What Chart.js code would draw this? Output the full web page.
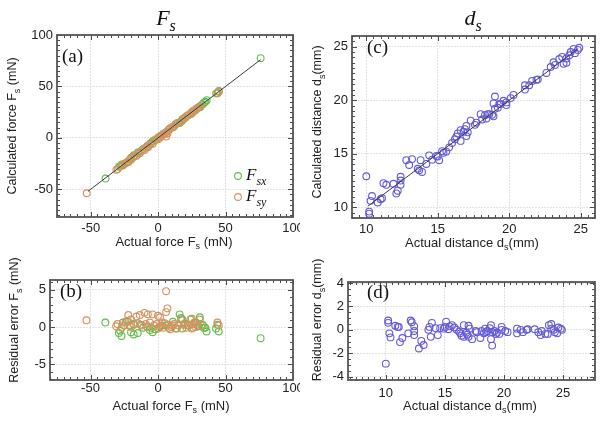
<!DOCTYPE html>
<html lang="en">
<head>
<meta charset="UTF-8">
<title>Force and distance calibration</title>
<script src="https://cdn.jsdelivr.net/npm/chart.js"></script>
<style>
  body { margin: 0; background: #fff; }
  #wrap { position: relative; width: 604px; height: 425px; }
  canvas { position: absolute; }
</style>
</head>
<body>
<div id="wrap">
  <canvas id="chartA" width="300" height="255" style="left:0px;top:0px"></canvas>
  <canvas id="chartB" width="300" height="170" style="left:0px;top:255px"></canvas>
  <canvas id="chartC" width="304" height="255" style="left:300px;top:0px"></canvas>
  <canvas id="chartD" width="304" height="170" style="left:300px;top:255px"></canvas>
</div>
<script>
// ---- data ----
// Fsx (green): actual force, calculated force, residual (mN)
const fsxActual = [-39,-29,-27,-28,-26,-23,-20,-18,-15,-21,-18,-13,-11,-8,-5,-2,-4,-6,1,3,6,8,11,13,16,17,18,18,20,22,25,26,28,30,31,33,34,35,36,43,45,44,76];
const fsxCalc = [-39.6,-28.2,-25.8,-27.5,-26.6,-23.8,-19.3,-17,-14.2,-21.2,-18.4,-13.3,-10.9,-8.1,-4.9,-1.7,-3.3,-5.6,1,2.8,5.8,8.1,10.3,13.2,14.3,15.8,17,18.2,19.6,21.8,23.9,26.1,27.4,29.9,29.7,32.7,34.1,35.1,36.6,43.2,45.6,43.7,77.5];
const fsxResid = [0.6,-0.8,-1.2,-0.5,0.6,0.8,-0.7,-1.0,-0.8,0.2,0.4,0.3,-0.1,0.1,-0.1,-0.3,-0.7,-0.4,0,0.2,0.2,-0.1,0.7,-0.2,1.7,1.2,1.0,-0.2,0.4,0.2,1.1,-0.1,0.6,0.1,1.3,0.3,-0.1,-0.1,-0.6,-0.2,-0.6,0.3,-1.5];

// Fsy (orange)
const fsyActual = [-53,-31,-30,-27,-24,-22,-20,-16,-13.5,-22,-10,-7.5,-4,0,1.5,6,7,6,-18,-15,-12,-9,-6,-3,-1,2,4,5,8,10,12,14,15,17,19,21,23,24,26,28,29,31,32,44,45,-25,-20,-8,0,3,9,11,20,25,27];
const fsyCalc = [-53.9,-31.1,-30.4,-26.9,-24.7,-22.7,-21,-17.4,-15.1,-23.6,-11.9,-9.2,-5.7,-1.5,0.2,4,4.5,1.2,-18.3,-15.5,-12.2,-9.4,-6.6,-3.2,-1.4,1.9,4.1,4.5,7.7,10,11.6,14.2,14.8,16,18.7,21.1,22.8,23,25.6,28,28.7,30,31.8,43.4,44.8,-25.2,-20,-8,0.2,2.4,9.3,10.8,19.5,25.2,26.4];
const fsyResid = [0.9,0.1,0.4,-0.1,0.7,0.7,1.0,1.4,1.6,1.6,1.9,1.7,1.7,1.5,1.3,2.0,2.5,4.8,0.3,0.5,0.2,0.4,0.6,0.2,0.4,0.1,-0.1,0.5,0.3,0.0,0.4,-0.2,0.2,1.0,0.3,-0.1,0.2,1.0,0.4,0.0,0.3,1.0,0.2,0.6,0.2,0.2,0.0,0.0,-0.2,0.6,-0.3,0.2,0.5,-0.2,0.6];

// distance ds (mm)
const dActual = [10.0,10.2,10.2,10.3,10.4,10.8,11.0,11.1,11.2,11.4,11.9,12.1,12.2,12.4,12.4,12.4,12.8,13.0,13.2,13.6,13.7,13.9,13.8,14.4,14.2,14.6,15.1,15.0,15.3,15.4,15.6,16.0,16.2,16.4,16.6,16.6,16.8,17.0,17.0,17.1,17.3,17.6,17.7,18.0,18.1,18.4,18.6,18.8,18.9,18.9,19.0,19.0,19.3,19.4,19.6,19.8,19.8,20.1,20.3,21.1,21.1,21.4,21.6,21.9,22.0,22.6,22.9,23.1,23.2,23.5,23.7,23.8,24.0,24.0,24.2,24.3,24.6,24.8,15.8,16.3,18.3,18.5,19.2,16.9,14.9,24.5,24.9];
const dCalc = [12.9,9.4,9.6,10.6,11.05,10.45,10.75,10.85,12.25,12.1,12.2,11.3,11.55,12.1,12.5,12.85,14.4,13.95,14.5,13.6,13.45,13.3,14.4,14.85,14.05,14.45,14.4,14.75,15.25,15.1,15.2,16.0,16.35,16.9,17.2,16.2,17.05,16.65,17.6,17.0,18.1,17.7,17.9,18.7,18.2,18.3,18.7,18.65,18.5,19.7,20.35,19.2,19.65,19.65,19.95,19.55,19.8,20.2,20.5,21.0,21.4,21.4,21.8,21.9,21.95,22.55,23.1,23.55,23.3,23.85,24.05,23.4,23.5,23.9,24.2,24.5,24.4,24.7,15.6,16.6,18.6,18.7,19.3,17.3,14.8,24.8,24.9];
const dResid = [-2.9,0.8,0.6,-0.3,-0.65,0.35,0.25,0.25,-1.05,-0.7,-0.3,0.8,0.65,0.3,-0.1,-0.45,-1.6,-0.95,-1.3,0.0,0.25,0.6,-0.6,-0.45,0.15,0.15,0.7,0.25,0.05,0.3,0.4,0.0,-0.15,-0.5,-0.6,0.4,-0.25,0.35,-0.6,0.1,-0.8,-0.1,-0.2,-0.7,-0.1,0.1,-0.1,0.15,0.4,-0.8,-1.35,-0.2,-0.35,-0.25,-0.35,0.25,0.0,-0.1,-0.2,0.1,-0.3,0.0,-0.2,0.0,0.05,0.05,-0.2,-0.45,-0.1,-0.35,-0.35,0.4,0.5,0.1,0.0,-0.2,0.2,0.1,0.2,-0.3,-0.3,-0.2,-0.1,-0.4,0.1,-0.3,0.0];

// fitted y = x lines (end points)
const forceFit = [-52, 76];
const distFit = [10.1, 24.8];

// tick labels
const forceTicks = [-50, 0, 50, 100];
const residForceTicks = [-5, 0, 5];
const distTicks = [10, 15, 20, 25];
const residDistTicks = [-4, -2, 0, 2, 4];

const GREEN = 'rgb(96,190,76)';
const ORANGE = 'rgb(214,146,96)';
const BLUE = 'rgb(100,90,216)';
const SANS = '"Liberation Sans", Arial, sans-serif';
const SERIF = '"Liberation Serif", "Times New Roman", serif';

function pts(xs, ys) {
  return xs.map((v, i) => ({ x: v, y: ys[i] }));
}

// draw text with subscript parts: [['Actual force F'], ['s', true], [' (mN)']]
function drawRich(ctx, x, y, parts, size, family, style, align) {
  const subSize = Math.round(size * 0.72);
  const fontOf = sub => (style || '') + ' ' + (sub ? subSize : size) + 'px ' + family;
  let total = 0;
  parts.forEach(p => { ctx.font = fontOf(p[1]); total += ctx.measureText(p[0]).width; });
  let cx = align === 'left' ? x : x - total / 2;
  ctx.textBaseline = 'middle';
  ctx.textAlign = 'left';
  parts.forEach(p => {
    ctx.font = fontOf(p[1]);
    ctx.fillText(p[0], cx, p[1] ? y + size * 0.35 : y);
    cx += ctx.measureText(p[0]).width;
  });
}

function axis(min, max, ticks, size, pad, isX) {
  return {
    type: 'linear',
    min: min,
    max: max,
    afterBuildTicks: s => { s.ticks = ticks.map(v => ({ value: v })); },
    afterFit: s => {
      if (isX) { s.height = size; s.paddingLeft = 0; s.paddingRight = 0; }
      else { s.width = size; s.paddingTop = 0; s.paddingBottom = 0; }
    },
    grid: { color: '#e2e2e2', lineWidth: 1, drawTicks: false },
    border: { display: false, dash: [2, 1] },
    ticks: { padding: pad, color: '#222', font: { family: SANS, size: 13 } }
  };
}

// frame with minor ticks, like the original plot boxes
const framePlugin = {
  id: 'frame',
  beforeDatasetsDraw(chart) {
    const o = chart.config.options.frame;
    const { ctx, chartArea: a } = chart;
    const sx = chart.scales.x, sy = chart.scales.y;
    ctx.save();
    ctx.strokeStyle = '#4a4a4a';
    ctx.lineWidth = 1;
    ctx.beginPath();
    const k0 = Math.ceil(sx.min / o.minorX), k1 = Math.floor(sx.max / o.minorX);
    for (let k = k0; k <= k1; k++) {
      const v = k * o.minorX;
      const px = Math.round(sx.getPixelForValue(v)) + 0.5;
      const len = o.ticksX.includes(+v.toFixed(4)) ? 5 : 3;
      ctx.moveTo(px, a.bottom); ctx.lineTo(px, a.bottom - len);
      ctx.moveTo(px, a.top); ctx.lineTo(px, a.top + len);
    }
    const j0 = Math.ceil(sy.min / o.minorY), j1 = Math.floor(sy.max / o.minorY);
    for (let k = j0; k <= j1; k++) {
      const v = k * o.minorY;
      const py = Math.round(sy.getPixelForValue(v)) + 0.5;
      const len = o.ticksY.includes(+v.toFixed(4)) ? 5 : 3;
      ctx.moveTo(a.left, py); ctx.lineTo(a.left + len, py);
      ctx.moveTo(a.right, py); ctx.lineTo(a.right - len, py);
    }
    ctx.stroke();
    ctx.lineWidth = 1.8;
    ctx.strokeStyle = '#555';
    ctx.strokeRect(a.left, a.top, a.width, a.height);
    ctx.restore();
  },
  afterDraw(chart) {
    const o = chart.config.options.frame;
    const ctx = chart.ctx;
    ctx.save();
    ctx.fillStyle = '#222';
    drawRich(ctx, o.xTitle.x, o.xTitle.y, o.xTitle.parts, 13, SANS, '', 'center');
    ctx.save();
    ctx.translate(o.yTitle.x, o.yTitle.y);
    ctx.rotate(-Math.PI / 2);
    drawRich(ctx, 0, 0, o.yTitle.parts, 12.5, SANS, '', 'center');
    ctx.restore();
    ctx.fillStyle = '#111';
    drawRich(ctx, o.panel.x, o.panel.y, [[o.panel.text]], 19, SERIF, '', 'left');
    if (o.title) drawRich(ctx, o.title.x, o.title.y, o.title.parts, 22, SERIF, 'italic', 'center');
    if (o.legend) {
      o.legend.forEach(l => {
        ctx.strokeStyle = l.color;
        ctx.lineWidth = 1.1;
        ctx.beginPath();
        ctx.arc(l.x, l.y, 3.4, 0, Math.PI * 2);
        ctx.stroke();
        ctx.fillStyle = '#111';
        drawRich(ctx, l.x + 8, l.y, l.parts, 17, SERIF, 'italic', 'left');
      });
    }
    ctx.restore();
  }
};

function scatterSet(data, color) {
  return { data: data, borderColor: color, backgroundColor: 'rgba(0,0,0,0)', borderWidth: 1.1, pointRadius: 3.4, pointStyle: 'circle' };
}
function lineSet(ends) {
  return { data: pts(ends, ends), showLine: true, borderColor: '#3a3a3a', borderWidth: 1, pointRadius: 0 };
}

function makeChart(id, cfg) {
  return new Chart(document.getElementById(id), {
    type: 'scatter',
    data: { datasets: cfg.datasets },
    options: {
      responsive: false,
      animation: false,
      devicePixelRatio: 1,
      layout: { padding: cfg.padding },
      plugins: { legend: { display: false }, tooltip: { enabled: false } },
      scales: { x: cfg.x, y: cfg.y },
      frame: cfg.frame
    },
    plugins: [framePlugin]
  });
}

// (a) calculated vs actual force
makeChart('chartA', {
  datasets: [lineSet(forceFit), scatterSet(pts(fsyActual, fsyCalc), ORANGE), scatterSet(pts(fsxActual, fsxCalc), GREEN)],
  padding: { top: 35, right: 7, left: 0, bottom: 0 },
  x: axis(-75, 100, forceTicks, 38, 4, true),
  y: axis(-77, 100, forceTicks, 57, 4, false),
  frame: {
    minorX: 5, minorY: 5, ticksX: forceTicks, ticksY: forceTicks,
    xTitle: { x: 174, y: 242, parts: [['Actual force F'], ['s', true], [' (mN)']] },
    yTitle: { x: 13, y: 126, parts: [['Calculated force F'], ['s', true], [' (mN)']] },
    panel: { x: 62, y: 57, text: '(a)' },
    title: { x: 166, y: 19, parts: [['F'], ['s', true]] },
    legend: [
      { x: 238, y: 176, color: GREEN, parts: [['F'], ['sx', true]] },
      { x: 238, y: 197, color: ORANGE, parts: [['F'], ['sy', true]] }
    ]
  }
});

// (b) residual force
makeChart('chartB', {
  datasets: [scatterSet(pts(fsyActual, fsyResid), ORANGE), scatterSet(pts(fsxActual, fsxResid), GREEN)],
  padding: { top: 25, right: 7, left: 0, bottom: 0 },
  x: axis(-80, 100, forceTicks, 45, 1, true),
  y: axis(-7.1, 6.3, residForceTicks, 50, 4, false),
  frame: {
    minorX: 5, minorY: 1, ticksX: forceTicks, ticksY: residForceTicks,
    xTitle: { x: 171, y: 151, parts: [['Actual force F'], ['s', true], [' (mN)']] },
    yTitle: { x: 15, y: 65, parts: [['Residual error F'], ['s', true], [' (mN)']] },
    panel: { x: 60, y: 37, text: '(b)' }
  }
});

// (c) calculated vs actual distance
makeChart('chartC', {
  datasets: [lineSet(distFit), scatterSet(pts(dActual, dCalc), BLUE)],
  padding: { top: 36, right: 9, left: 0, bottom: 0 },
  x: axis(9, 26, distTicks, 37, 4, true),
  y: axis(9, 26, distTicks, 52, 4, false),
  frame: {
    minorX: 0.5, minorY: 0.5, ticksX: distTicks, ticksY: distTicks,
    xTitle: { x: 172, y: 243, parts: [['Actual distance d'], ['s', true], ['(mm)']] },
    yTitle: { x: 18, y: 122, parts: [['Calculated distance d'], ['s', true], ['(mm)']] },
    panel: { x: 67, y: 48, text: '(c)' },
    title: { x: 173, y: 19, parts: [['d'], ['s', true]] }
  }
});

// (d) residual distance
makeChart('chartD', {
  datasets: [scatterSet(pts(dActual, dResid), BLUE)],
  padding: { top: 27, right: 9, left: 0, bottom: 0 },
  x: axis(6.8, 27.7, distTicks, 45, 6, true),
  y: axis(-4.3, 4.1, residDistTicks, 48, 4, false),
  frame: {
    minorX: 0.5, minorY: 0.5, ticksX: distTicks, ticksY: residDistTicks,
    xTitle: { x: 170, y: 151, parts: [['Actual distance d'], ['s', true], ['(mm)']] },
    yTitle: { x: 18, y: 65, parts: [['Residual error d'], ['s', true], ['(mm)']] },
    panel: { x: 67, y: 38, text: '(d)' }
  }
});
</script>
</body>
</html>
